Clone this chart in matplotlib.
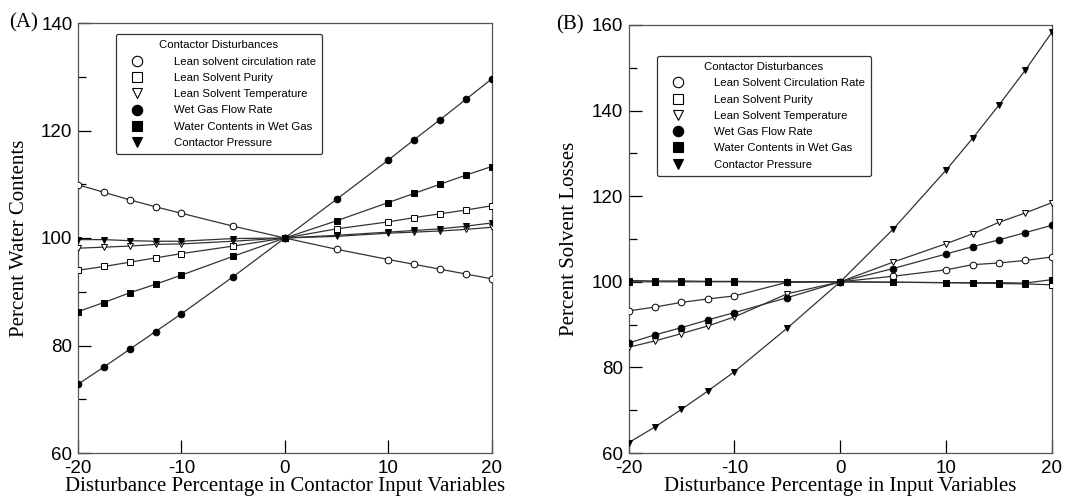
import matplotlib
matplotlib.use("Agg")
import matplotlib.pyplot as plt
from matplotlib.lines import Line2D
from matplotlib.ticker import MultipleLocator

# disturbance levels (%)
x = [-20, -17.5, -15, -12.5, -10, -5, 0, 5, 10, 12.5, 15, 17.5, 20]

labels_a = ["Lean solvent circulation rate", "Lean Solvent Purity", "Lean Solvent Temperature",
            "Wet Gas Flow Rate", "Water Contents in Wet Gas", "Contactor Pressure"]
labels_b = ["Lean Solvent Circulation Rate", "Lean Solvent Purity", "Lean Solvent Temperature",
            "Wet Gas Flow Rate", "Water Contents in Wet Gas", "Contactor Pressure"]

# (A) percent water contents
a_circ = [109.9, 108.5, 107.1, 105.8, 104.6, 102.2, 100, 97.9, 96.0, 95.1, 94.2, 93.3, 92.4]
a_purity = [94.0, 94.7, 95.5, 96.3, 97.1, 98.5, 100, 101.7, 103.0, 103.8, 104.5, 105.2, 106.0]
a_temp = [98.1, 98.3, 98.5, 98.8, 98.9, 99.4, 100, 100.3, 100.9, 101.1, 101.3, 101.6, 102.0]
a_gas = [72.8, 76.0, 79.3, 82.6, 85.9, 92.8, 100, 107.2, 114.5, 118.3, 122.0, 125.8, 129.6]
a_water = [86.3, 88.0, 89.8, 91.4, 93.1, 96.6, 100, 103.2, 106.6, 108.3, 110.0, 111.7, 113.3]
a_press = [99.7, 99.7, 99.5, 99.4, 99.4, 99.9, 100, 100.5, 101.1, 101.4, 101.7, 102.2, 102.8]

# (B) percent solvent losses
b_circ = [93.2, 94.1, 95.2, 96.0, 96.7, 99.9, 100, 101.3, 102.8, 104.0, 104.4, 105.0, 105.8]
b_purity = [100.3, 100.2, 100.2, 100.1, 100.1, 100.0, 100, 99.9, 99.8, 99.7, 99.6, 99.5, 99.3]
b_temp = [84.7, 86.2, 87.9, 89.7, 91.8, 97.2, 100, 104.6, 108.9, 111.2, 113.9, 116.1, 118.5]
b_gas = [85.7, 87.6, 89.3, 91.1, 92.8, 96.3, 100, 103.1, 106.5, 108.2, 109.8, 111.5, 113.2]
b_water = [100.0, 100.0, 100.0, 100.0, 100.0, 100.0, 100, 99.9, 99.8, 99.8, 99.8, 99.7, 100.5]
b_press = [62.4, 66.1, 70.2, 74.5, 79.0, 89.2, 100, 112.3, 126.1, 133.5, 141.3, 149.5, 158.3]

markers = ["o", "s", "v", "o", "s", "v"]
fills = ["white", "white", "white", "black", "black", "black"]

plt.rcParams["font.family"] = ["Liberation Sans", "DejaVu Sans"]
plt.rcParams["axes.unicode_minus"] = False
fig = plt.figure(figsize=(10.69, 5.0), dpi=100)
ax1 = fig.add_axes([0.073, 0.094, 0.387, 0.86])
ax2 = fig.add_axes([0.588, 0.094, 0.396, 0.856])


def draw(ax, series, labels, ylim, ylabel, xlabel, leg_pos):
    for ys, m, fc in zip(series, markers, fills):
        ax.plot(x, ys, color="#333333", lw=0.9, marker=m, ms=4.8,
                mfc=fc, mec="black", mew=0.7, zorder=3)
    ax.set_xlim(-20, 20)
    ax.set_ylim(*ylim)
    ax.set_xticks([-20, -10, 0, 10, 20])
    ax.yaxis.set_major_locator(MultipleLocator(20))
    ax.yaxis.set_minor_locator(MultipleLocator(10))
    ax.tick_params(direction="in", length=9.5, width=0.9, labelsize=13.5)
    ax.tick_params(axis="x", pad=5)
    ax.tick_params(axis="y", pad=4)
    ax.tick_params(which="minor", direction="in", length=6, width=0.9)
    for s in ax.spines.values():
        s.set_linewidth(0.9)
        s.set_color("#555555")
    ax.set_ylabel(ylabel, family="Liberation Serif", fontsize=15, labelpad=9)
    ax.set_xlabel(xlabel, family="Liberation Serif", fontsize=15, labelpad=0)
    handles = [Line2D([], [], ls="none", marker=m, ms=7.5, mfc=fc, mec="black", mew=0.8)
               for m, fc in zip(markers, fills)]
    leg = ax.legend(handles, labels, title="Contactor Disturbances", loc="upper left",
                    bbox_to_anchor=leg_pos, fontsize=8.2, title_fontsize=8.2,
                    handlelength=2.6, handletextpad=1.9, labelspacing=0.55,
                    borderpad=0.55, borderaxespad=0, frameon=True, fancybox=True)
    leg.get_frame().set_edgecolor("black")
    leg.get_frame().set_linewidth(0.9)
    leg.set_zorder(5)


draw(ax1, [a_circ, a_purity, a_temp, a_gas, a_water, a_press], labels_a,
     (60, 140), "Percent Water Contents",
     "Disturbance Percentage in Contactor Input Variables", (0.092, 0.974))
draw(ax2, [b_circ, b_purity, b_temp, b_gas, b_water, b_press], labels_b,
     (60, 160), "Percent Solvent Losses",
     "Disturbance Percentage in Input Variables", (0.066, 0.928))

fig.text(0.009, 0.955, "(A)", family="Liberation Serif", fontsize=15, va="center")
fig.text(0.520, 0.951, "(B)", family="Liberation Serif", fontsize=15, va="center")

fig.savefig("out.png", dpi=100)
